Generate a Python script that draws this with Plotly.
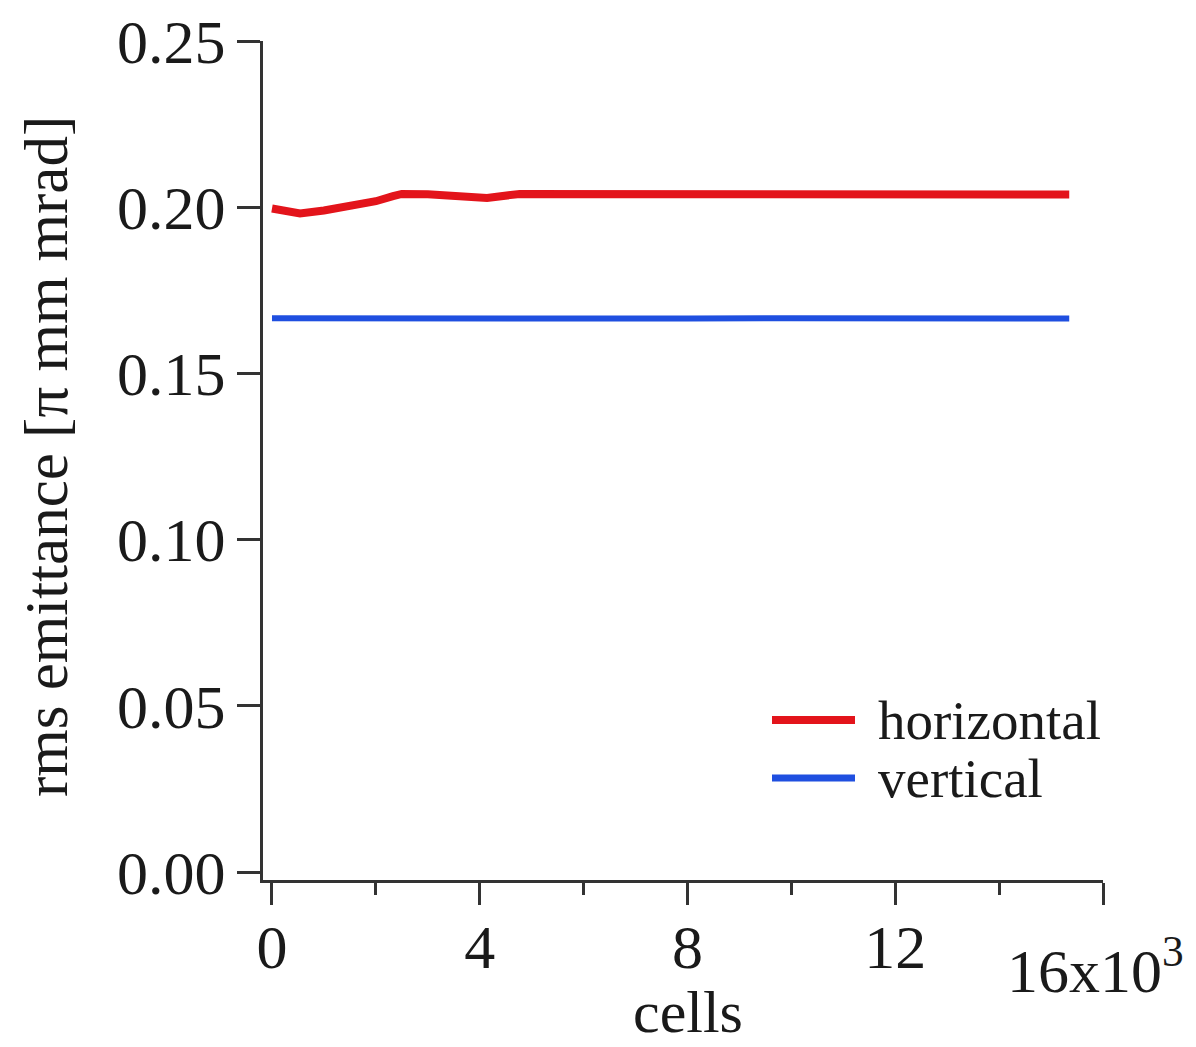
import plotly.graph_objects as go

# Data (cells in units of 10^3)
h_cells = [0, 0.2, 0.54, 1.0, 1.5, 2.0, 2.33, 2.5, 3.0, 3.5, 4.14, 4.77, 6.0, 8.0, 10.0, 12.0, 14.0, 15.35]
h_emit = [0.1996, 0.1989, 0.1981, 0.1990, 0.2002, 0.2018, 0.2033, 0.2040, 0.2039, 0.2034,
          0.2028, 0.2040, 0.2040, 0.2040, 0.2041, 0.2040, 0.2039, 0.2038]
v_cells = [0, 2.0, 4.0, 6.0, 8.0, 10.0, 12.0, 14.0, 15.35]
v_emit = [0.1666, 0.1665, 0.1666, 0.1665, 0.1665, 0.1666, 0.1665, 0.1665, 0.1665]

x_major = [0, 4, 8, 12, 16]
x_major_text = ["0", "4", "8", "12", ""]
x_minor = [2, 6, 10, 14]
y_ticks = [0.00, 0.05, 0.10, 0.15, 0.20, 0.25]
y_ticktext = ["0.00", "0.05", "0.10", "0.15", "0.20", "0.25"]

RED = "#e3141b"
BLUE = "#1f4fe0"
FONT = "Liberation Serif"
TXT = "#1a1a1a"
AX = "#333333"

fig = go.Figure()
fig.add_trace(go.Scatter(x=h_cells, y=h_emit, mode="lines", name="horizontal",
                         line=dict(color=RED, width=8), showlegend=False))
fig.add_trace(go.Scatter(x=v_cells, y=v_emit, mode="lines", name="vertical",
                         line=dict(color=BLUE, width=6), showlegend=False))

L, R, T, B = 263, 93, 41, 167
W, H = 1196, 1047
pw, ph = W - L - R, H - T - B

def px(xp):
    return (xp - L) / pw

def py(yp):
    return (H - B - yp) / ph

fig.update_layout(
    width=W, height=H,
    margin=dict(l=L, r=R, t=T, b=B, autoexpand=False),
    paper_bgcolor="white", plot_bgcolor="white",
    font=dict(family=FONT, color=TXT, size=60),
    xaxis=dict(range=[-0.173, 16], showgrid=False, zeroline=False, automargin=False,
               showline=True, linecolor=AX, linewidth=3,
               tickmode="array", tickvals=x_major, ticktext=x_major_text,
               ticks="outside", ticklen=22, tickwidth=3, tickcolor=AX,
               ticklabelstandoff=-11,
               minor=dict(tickmode="array", tickvals=x_minor, ticks="outside",
                          ticklen=12, tickwidth=3, tickcolor=AX),
               tickfont=dict(size=62, family=FONT, color=TXT)),
    yaxis=dict(range=[-0.0024, 0.25], showgrid=False, zeroline=False, automargin=False,
               showline=True, linecolor=AX, linewidth=3,
               tickmode="array", tickvals=y_ticks, ticktext=y_ticktext,
               ticks="outside", ticklen=23, tickwidth=3, tickcolor=AX,
               ticklabelstandoff=-1,
               tickfont=dict(size=62, family=FONT, color=TXT)),
    showlegend=False,
)

annotations = [
    dict(text="rms emittance [π mm mrad]", textangle=-90, xref="paper", yref="paper",
         x=px(47), y=py(457), xanchor="center", yanchor="middle", showarrow=False,
         font=dict(size=61, family=FONT, color=TXT)),
    dict(text="cells", xref="paper", yref="paper", x=px(688), y=py(1047),
         xanchor="center", yanchor="bottom", showarrow=False,
         font=dict(size=60, family=FONT, color=TXT)),
    dict(text="16x10<sup>3</sup>", xref="x", yref="paper", x=16, y=py(966),
         xanchor="center", yanchor="middle", showarrow=False, xshift=-8,
         font=dict(size=62, family=FONT, color=TXT)),
    dict(text="horizontal", xref="paper", yref="paper", x=px(876), y=py(720),
         xanchor="left", yanchor="middle", showarrow=False,
         font=dict(size=55, family=FONT, color=TXT)),
    dict(text="vertical", xref="paper", yref="paper", x=px(876), y=py(778),
         xanchor="left", yanchor="middle", showarrow=False,
         font=dict(size=55, family=FONT, color=TXT)),
]
fig.update_layout(annotations=annotations)

fig.add_shape(type="line", xref="paper", yref="paper", x0=px(772), x1=px(855),
              y0=py(720), y1=py(720), line=dict(color=RED, width=8))
fig.add_shape(type="line", xref="paper", yref="paper", x0=px(772), x1=px(855),
              y0=py(778), y1=py(778), line=dict(color=BLUE, width=7))

fig.write_html("out.html")
